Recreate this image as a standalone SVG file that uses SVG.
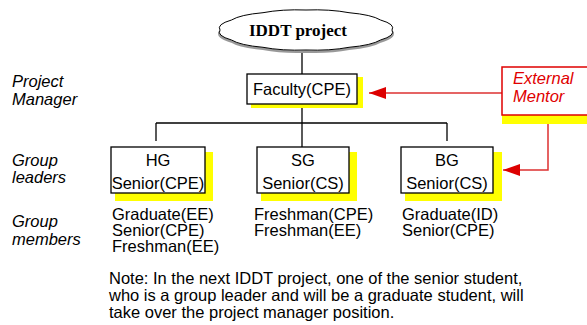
<svg xmlns="http://www.w3.org/2000/svg" width="587" height="325" viewBox="0 0 587 325">
<defs>
<style>
.t{font-family:"Liberation Sans",Arial,sans-serif;font-size:16.5px;fill:#000}
.lbl{font-family:"Liberation Sans",Arial,sans-serif;font-size:16.5px;font-style:italic;fill:#000}
.red{font-family:"Liberation Sans",Arial,sans-serif;font-size:16.5px;font-style:italic;fill:#e00000}
.box{fill:#fff;stroke:#000;stroke-width:1.3}
.sh{fill:#ffff00}
.ln{stroke:#000;stroke-width:1.3;fill:none}
.rl{stroke:#dd3030;stroke-width:1.5;fill:none}
</style>
<marker id="ra" viewBox="0 0 17 12" refX="17" refY="6" markerWidth="17" markerHeight="12" markerUnits="userSpaceOnUse" orient="auto">
<path d="M0,0 L17,6 L0,12 Z" fill="#dd0000"/>
</marker>
</defs>
<rect width="587" height="325" fill="#fff"/>

<g id="connectors">
<line class="ln" x1="302" y1="51" x2="302" y2="74"/>
<line class="ln" x1="302" y1="104" x2="302" y2="123"/>
<line class="ln" x1="156" y1="123" x2="447" y2="123"/>
<line class="ln" x1="156" y1="123" x2="156" y2="141"/>
<line class="ln" x1="302" y1="123" x2="302" y2="147"/>
<line class="ln" x1="447" y1="123" x2="447" y2="141"/>
<line class="rl" x1="502" y1="93" x2="369" y2="93" marker-end="url(#ra)"/>
<polyline class="rl" points="548,115 548,170 503,170" marker-end="url(#ra)"/>
</g>

<g id="cloud">
<path d="M392,31.5 Q395.7,37.1 380.5,41.5 Q371.7,46.8 349,48.8 Q330,52.4 306,51.5 Q282,52.4 263,48.8 Q240.3,46.8 231.5,41.5 Q216.3,37.1 220,31.5" fill="none" stroke="#999" stroke-width="2.5"/>
<path d="M392,30 Q395.7,35.6 380.5,40 Q371.7,45.3 349,47.3 Q330,50.9 306,50 Q282,50.9 263,47.3 Q240.3,45.3 231.5,40 Q216.3,35.6 220,30 Q216.3,24.4 231.5,20 Q240.3,14.7 263,12.7 Q282,9.1 306,10 Q330,9.1 349,12.7 Q371.7,14.7 380.5,20 Q395.7,24.4 392,30 Z" fill="#fff" stroke="#000" stroke-width="1"/>
<text x="298" y="36" text-anchor="middle" font-family="'Liberation Serif','Times New Roman',serif" font-weight="bold" font-size="17px">IDDT project</text>
</g>

<g id="faculty">
<rect class="sh" x="251" y="77" width="112" height="31"/>
<rect class="box" x="247" y="74" width="110" height="30"/>
<text class="t" x="302" y="95" text-anchor="middle">Faculty(CPE)</text>
</g>

<g id="mentor">
<rect class="sh" x="502" y="71" width="90" height="53"/>
<rect x="502" y="67" width="90" height="48" fill="#fff" stroke="#e00000" stroke-width="1.5"/>
<text class="red" x="513" y="84">External</text>
<text class="red" x="513" y="102">Mentor</text>
</g>

<g id="hg">
<rect class="sh" x="115" y="152" width="98" height="49"/>
<rect class="box" x="111" y="147" width="94" height="46"/>
<text class="t" x="158" y="166" text-anchor="middle">HG</text>
<text class="t" x="158" y="189" text-anchor="middle">Senior(CPE)</text>
</g>

<g id="sg">
<rect class="sh" x="261" y="152" width="96" height="49"/>
<rect class="box" x="257" y="147" width="92" height="46"/>
<text class="t" x="303" y="166" text-anchor="middle">SG</text>
<text class="t" x="303" y="189" text-anchor="middle">Senior(CS)</text>
</g>

<g id="bg">
<rect class="sh" x="405" y="152" width="97" height="49"/>
<rect class="box" x="401" y="147" width="92" height="46"/>
<text class="t" x="447" y="166" text-anchor="middle">BG</text>
<text class="t" x="447" y="189" text-anchor="middle">Senior(CS)</text>
</g>

<g id="labels">
<text class="lbl" x="12" y="87">Project</text>
<text class="lbl" x="12" y="105">Manager</text>
<text class="lbl" x="12" y="166">Group</text>
<text class="lbl" x="12" y="183">leaders</text>
<text class="lbl" x="12" y="227">Group</text>
<text class="lbl" x="12" y="245">members</text>
</g>

<g id="members">
<text class="t" x="112" y="220">Graduate(EE)</text>
<text class="t" x="112" y="236">Senior(CPE)</text>
<text class="t" x="112" y="252">Freshman(EE)</text>
<text class="t" x="254" y="220">Freshman(CPE)</text>
<text class="t" x="254" y="236">Freshman(EE)</text>
<text class="t" x="402" y="220">Graduate(ID)</text>
<text class="t" x="402" y="236">Senior(CPE)</text>
</g>

<g id="note">
<text class="t" x="109" y="284">Note: In the next IDDT project, one of the senior student,</text>
<text class="t" x="109" y="301">who is a group leader and will be a graduate student, will</text>
<text class="t" x="109" y="318">take over the project manager position.</text>
</g>
</svg>
